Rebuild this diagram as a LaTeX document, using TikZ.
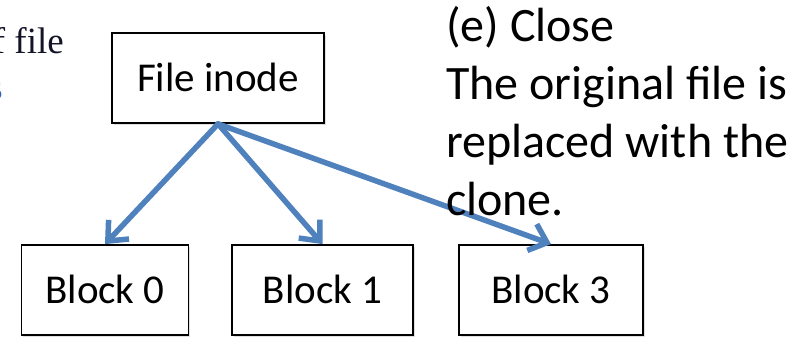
\documentclass[tikz,border=0pt]{standalone}
\usepackage{fontspec}
\setmainfont{Carlito}
\newfontfamily\cutserif{Liberation Serif}
\usetikzlibrary{arrows.meta,shadows}
\definecolor{linkblue}{RGB}{79,129,189}
\definecolor{inkdark}{RGB}{20,20,40}
\definecolor{inkblue}{RGB}{50,100,180}
\begin{document}
\begin{tikzpicture}[x=1pt,y=-1pt,
  blockbox/.style={draw=black, line width=1.8pt, fill=white,
    minimum height=90pt, inner sep=0pt,
    text height=26pt, text depth=0pt,
    font=\fontsize{41}{48}\selectfont,
    drop shadow={shadow xshift=1.5pt, shadow yshift=-1.5pt, opacity=0.25}},
  link/.style={draw=linkblue, line width=5.5pt, line cap=round,
    -{Straight Barb[length=16pt,width=28pt]}},
  cuttext/.style={inner sep=0pt, font=\cutserif\fontsize{37}{40}\selectfont}]
\useasboundingbox (0,0) rectangle (797,338);
\clip (0,0) rectangle (797,338);

% text running in from the left edge
\node[cuttext, anchor=base east, text=inkdark] (leftword) at (64,53) {of file};
\node[cuttext, anchor=base east, text=inkblue] (leftmark) at (3,99) {s};

% inode and its data blocks
\node[blockbox, minimum width=212pt] (inode) at (218,78) {File inode};
\node[blockbox, minimum width=167pt] (b0) at (105,290) {Block 0};
\node[blockbox, minimum width=181pt] (b1) at (322.5,290) {Block 1};
\node[blockbox, minimum width=184pt] (b3) at (551,290) {Block 3};

% block pointers
\draw[link] (inode.south) -- (b0.north);
\draw[link] (inode.south) -- (b1.north);
\draw[link] (inode.south) -- (b3.north);

% caption, anchored at the baseline of its last line
\node[anchor=base west, align=left, inner sep=0pt,
  font=\fontsize{48}{58}\selectfont] (caption) at (446,215)
  {(e) Close\\The original file is\\replaced with the\\clone.};
\end{tikzpicture}
\end{document}
